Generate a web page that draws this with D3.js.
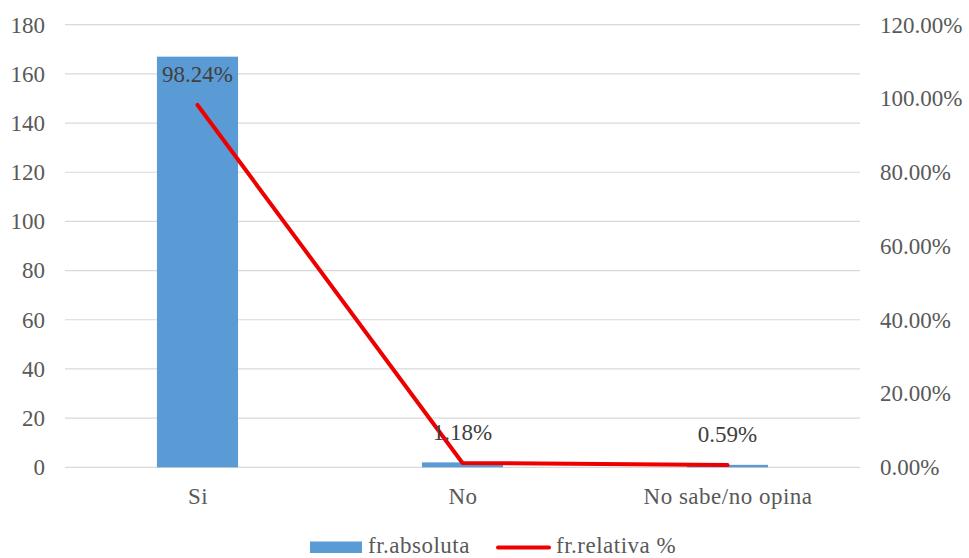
<!DOCTYPE html>
<html>
<head>
<meta charset="utf-8">
<script src="https://cdn.jsdelivr.net/npm/d3@7"></script>
<style>
  html, body { margin: 0; padding: 0; background: #fff; }
</style>
</head>
<body>
<svg id="chart" width="969" height="558"></svg>
<script>
const categories = ["Si", "No", "No sabe/no opina"];
const absValues = [167, 2, 1];
const relValues = [98.24, 1.18, 0.59];
const leftTicks = [0, 20, 40, 60, 80, 100, 120, 140, 160, 180];
const rightTicks = [0, 20, 40, 60, 80, 100, 120];
const seriesNames = ["fr.absoluta", "fr.relativa %"];

const FONT = '"Liberation Serif", "Times New Roman", serif';
const fontSize = "23px";
const txtColor = "#595959";

const svg = d3.select("#chart");
const W = 969, H = 558;
const x0 = 65, x1 = 860;
const yTop = 24.7, yBot = 467.3;

const x = d3.scaleBand().domain(categories).range([x0, x1]).paddingInner(0.694).paddingOuter(0.347);
const xc = d3.scalePoint().domain(categories).range([x0, x1]).padding(0.5);
const yL = d3.scaleLinear().domain([0, 180]).range([yBot, yTop]);
const yR = d3.scaleLinear().domain([0, 120]).range([yBot, yTop]);

function styleText(sel, color, ls) {
  sel.style("font-family", FONT).style("font-size", fontSize).attr("fill", color || txtColor);
  if (ls) sel.style("letter-spacing", ls);
}

// gridlines
svg.append("g").selectAll("line").data(leftTicks).join("line")
  .attr("x1", x0).attr("x2", x1)
  .attr("y1", d => yL(d)).attr("y2", d => yL(d))
  .attr("stroke", "#d9d9d9").attr("stroke-width", 1.2);

// left axis
const la = svg.append("g").attr("transform", `translate(${x0 - 20},0)`)
  .call(d3.axisLeft(yL).tickValues(leftTicks).tickSize(0).tickPadding(0));
la.select(".domain").remove();
styleText(la.selectAll("text"));

// right axis
const ra = svg.append("g").attr("transform", `translate(${x1 + 20},0)`)
  .call(d3.axisRight(yR).tickValues(rightTicks).tickSize(0).tickPadding(0)
    .tickFormat(d => d.toFixed(2) + "%"));
ra.select(".domain").remove();
styleText(ra.selectAll("text"));

// bars
svg.append("g").selectAll("rect").data(absValues).join("rect")
  .attr("x", (d, i) => x(categories[i]))
  .attr("width", x.bandwidth())
  .attr("y", d => yL(d))
  .attr("height", d => yBot - yL(d))
  .attr("fill", "#5b9bd5");

// bottom axis labels
const ba = svg.append("g").attr("transform", `translate(0,${yBot + 20})`)
  .call(d3.axisBottom(xc).tickSize(0).tickPadding(0));
ba.select(".domain").remove();
styleText(ba.selectAll("text"), txtColor, "0.5px");
ba.selectAll("text").attr("dy", "0.71em");

// line
const line = d3.line().x((d, i) => xc(categories[i])).y(d => yR(d));
svg.append("path").datum(relValues)
  .attr("d", line)
  .attr("fill", "none").attr("stroke", "#ee0000")
  .attr("stroke-width", 4).attr("stroke-linejoin", "round").attr("stroke-linecap", "round");

// data labels
const dl = svg.append("g").selectAll("text").data(relValues).join("text")
  .attr("x", (d, i) => xc(categories[i]))
  .attr("y", d => yR(d) - 23)
  .attr("text-anchor", "middle")
  .text(d => d.toFixed(2) + "%");
styleText(dl, "#404040");

// legend
const lg = svg.append("g");
lg.append("rect").attr("x", 310).attr("y", 541.5).attr("width", 52).attr("height", 11.5).attr("fill", "#5b9bd5");
styleText(lg.append("text").attr("x", 368).attr("y", 553).text(seriesNames[0]), txtColor, "0.5px");
lg.append("line").attr("x1", 498).attr("x2", 549).attr("y1", 547.5).attr("y2", 547.5)
  .attr("stroke", "#ee0000").attr("stroke-width", 4).attr("stroke-linecap", "round");
styleText(lg.append("text").attr("x", 556).attr("y", 553).text(seriesNames[1]), txtColor, "0.5px");
</script>
</body>
</html>
